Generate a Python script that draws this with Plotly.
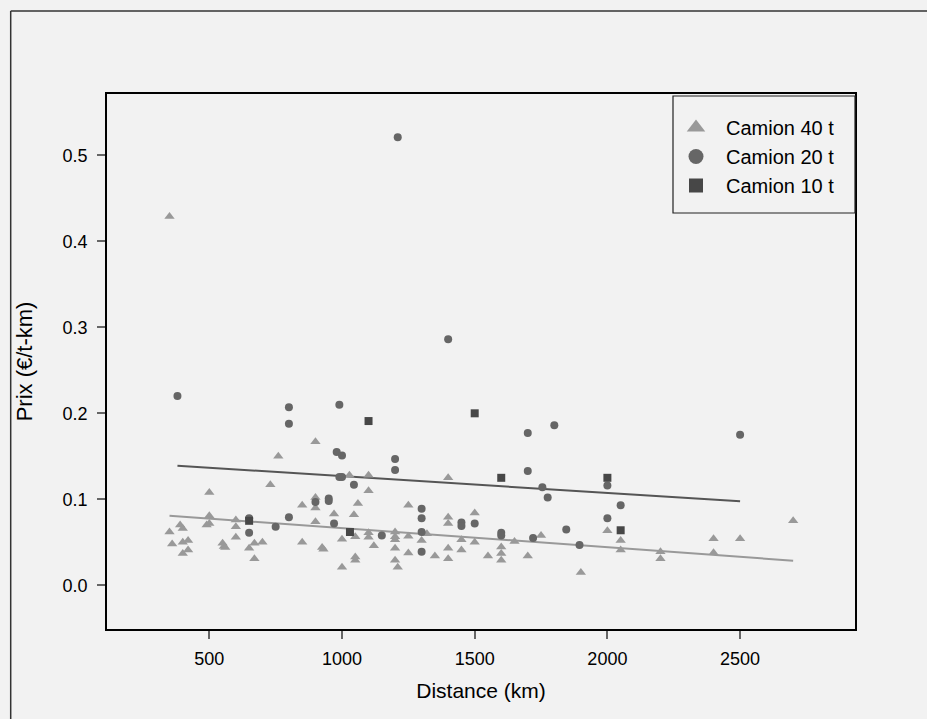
import plotly.graph_objects as go

# ---- data ----
t40_x = [350, 900, 760, 1028, 1100, 1400, 1100, 500, 730, 900, 1060, 850, 1250, 900, 970, 1045,
         500, 1500, 1400, 600, 900, 500, 1400, 390, 490, 600, 400, 2000, 350, 1100, 1200, 1320,
         1750, 1200, 1250, 1050, 1100, 600, 1000, 2400, 2500, 1200, 1450, 420, 1300, 2050, 1650,
         400, 700, 850, 1500, 550, 670, 360, 1120, 555, 560, 925, 1600, 650, 1200, 1400, 930,
         420, 1450, 2050, 2200, 2400, 1250, 400, 1600, 1050, 1350, 1550, 1700, 2200, 670, 1050,
         1200, 1400, 1600, 1000, 1210, 1900, 2700]
t40_y = [0.429, 0.167, 0.150, 0.128, 0.128, 0.125, 0.110, 0.108, 0.117, 0.102, 0.095, 0.093, 0.093,
         0.090, 0.083, 0.082, 0.081, 0.084, 0.079, 0.076, 0.074, 0.072, 0.072, 0.070, 0.070, 0.068,
         0.066, 0.0635, 0.062, 0.061, 0.062, 0.060, 0.058, 0.0565, 0.057, 0.0565, 0.056, 0.056,
         0.0535, 0.054, 0.054, 0.053, 0.053, 0.052, 0.052, 0.052, 0.051, 0.050, 0.050, 0.050, 0.050,
         0.049, 0.049, 0.048, 0.046, 0.045, 0.044, 0.044, 0.0445, 0.043, 0.043, 0.043, 0.042, 0.041,
         0.041, 0.041, 0.039, 0.038, 0.0375, 0.037, 0.037, 0.033, 0.034, 0.034, 0.034, 0.031, 0.031,
         0.029, 0.029, 0.031, 0.029, 0.021, 0.021, 0.015, 0.075]

t20_x = [380, 800, 800, 990, 980, 1000, 990, 1000, 1045, 950, 950, 900, 970, 800, 750, 650, 650,
         1210, 1400, 1700, 1800, 1200, 1200, 1700, 1755, 1775, 1300, 1300, 1300, 1300, 1450, 1450,
         1500, 1600, 1600, 1720, 1845, 1895, 1150, 2500, 2000, 2050, 2000]
t20_y = [0.220, 0.207, 0.188, 0.210, 0.155, 0.151, 0.126, 0.126, 0.117, 0.101, 0.098, 0.097, 0.072,
         0.079, 0.068, 0.078, 0.061, 0.521, 0.286, 0.177, 0.186, 0.147, 0.134, 0.133, 0.114, 0.102,
         0.089, 0.078, 0.062, 0.039, 0.073, 0.069, 0.072, 0.061, 0.058, 0.055, 0.065, 0.047, 0.058,
         0.175, 0.116, 0.093, 0.078]

t10_x = [650, 1030, 1100, 1500, 1600, 2000, 2050]
t10_y = [0.075, 0.062, 0.191, 0.200, 0.125, 0.125, 0.064]

fit40_x = [350, 2700]
fit40_y = [0.081, 0.0286]
fit20_x = [380, 2500]
fit20_y = [0.139, 0.0977]

x_ticks = [500, 1000, 1500, 2000, 2500]
y_ticks = [0.0, 0.1, 0.2, 0.3, 0.4, 0.5]
names = ["Camion 40 t", "Camion 20 t", "Camion 10 t"]

# ---- styling ----
C40 = "#999999"
C20 = "#666666"
C10 = "#474747"
BG = "#f2f2f2"
FONT = "Liberation Sans, Arial, sans-serif"

fig = go.Figure()

fig.add_trace(go.Scatter(x=fit40_x, y=fit40_y, mode="lines", line=dict(color=C40, width=2),
                         showlegend=False, hoverinfo="skip"))
fig.add_trace(go.Scatter(x=fit20_x, y=fit20_y, mode="lines", line=dict(color="#555555", width=2),
                         showlegend=False, hoverinfo="skip"))

fig.add_trace(go.Scatter(x=t40_x, y=t40_y, mode="markers", showlegend=False,
                         marker=dict(symbol="triangle-up", size=9, color=C40, line=dict(width=0))))
fig.add_trace(go.Scatter(x=t20_x, y=t20_y, mode="markers", showlegend=False,
                         marker=dict(symbol="circle", size=8, color=C20, line=dict(width=0))))
fig.add_trace(go.Scatter(x=t10_x, y=t10_y, mode="markers", showlegend=False,
                         marker=dict(symbol="square", size=8, color=C10, line=dict(width=0))))

# legend-only entries with larger symbols
for nm, sym, col, sz in [(names[0], "triangle-up", C40, 16), (names[1], "circle", C20, 15),
                         (names[2], "square", C10, 14)]:
    fig.add_trace(go.Scatter(x=[None], y=[None], mode="markers", name=nm, legendgroup=nm,
                             marker=dict(symbol=sym, size=sz, color=col, line=dict(width=0))))

axis_common = dict(showline=True, linecolor="black", linewidth=1.5, mirror=True,
                   ticks="outside", ticklen=8, tickwidth=1.5, tickcolor="#666666",
                   showgrid=False, zeroline=False,
                   tickfont=dict(family=FONT, size=18, color="black"))

OX = (10.7 - 107) / 748
OY = (629 - 11) / 535
RX = (927 - 107) / 748
BY = (629 - 719) / 535

fig.update_layout(
    width=927, height=719,
    margin=dict(l=107, r=72, t=94, b=90),
    paper_bgcolor=BG, plot_bgcolor=BG,
    font=dict(family=FONT, color="black"),
    xaxis=dict(range=[114.5, 2933], tickvals=x_ticks, ticktext=[str(v) for v in x_ticks],
               title=dict(text="Distance (km)", font=dict(family=FONT, size=21), standoff=15),
               ticklabelstandoff=5, **axis_common),
    yaxis=dict(range=[-0.0508, 0.5713], tickvals=y_ticks, ticktext=[f"{v:.1f}" for v in y_ticks],
               title=dict(text="Prix (€/t-km)", font=dict(family=FONT, size=22), standoff=24),
               ticklabelstandoff=6, **axis_common),
    legend=dict(x=(666 - 107) / 748, xanchor="left", y=(629 - 108) / 535, yanchor="top",
                bgcolor="rgba(0,0,0,0)", borderwidth=0,
                font=dict(family=FONT, size=20, color="black"),
                itemwidth=50, tracegroupgap=5, traceorder="normal"),
    shapes=[
        dict(type="line", xref="paper", yref="paper", x0=OX, x1=OX, y0=BY, y1=OY,
             line=dict(color="#333333", width=1.5), layer="below"),
        dict(type="line", xref="paper", yref="paper", x0=OX, x1=RX, y0=OY, y1=OY,
             line=dict(color="#333333", width=1.5), layer="below"),
        dict(type="rect", xref="paper", yref="paper",
             x0=(673 - 107) / 748, x1=1.0, y0=(629 - 213) / 535, y1=(629 - 96) / 535,
             line=dict(color="#222222", width=1.2), fillcolor="rgba(0,0,0,0)", layer="above"),
    ],
)

fig.write_html("out.html", config={"displayModeBar": False},
               post_script=("document.body.style.margin='0';"
                            "document.body.style.background='#f2f2f2';"
                            "document.documentElement.style.overflow='hidden';"))
